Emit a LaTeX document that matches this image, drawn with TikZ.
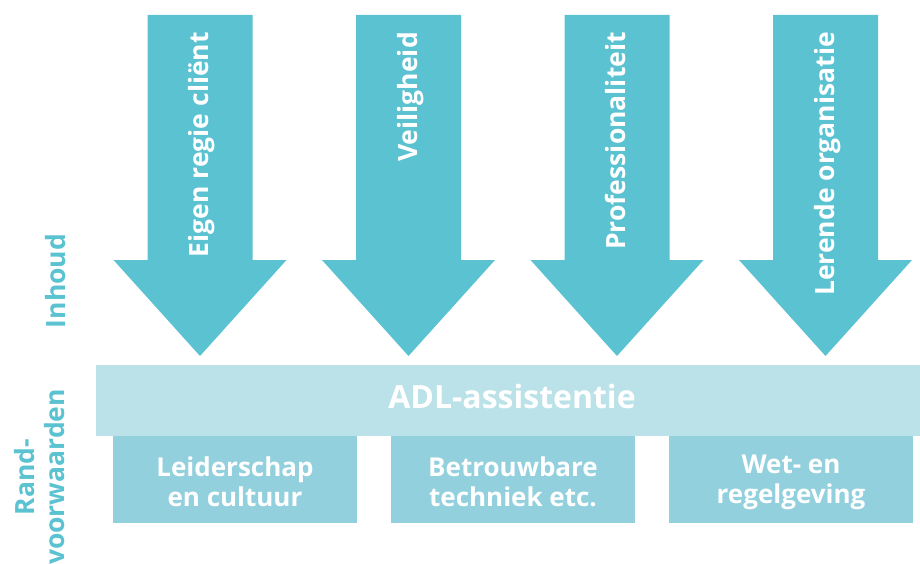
\documentclass[tikz,border=0pt]{standalone}
\usepackage{fontspec}
\setmainfont{Open Sans}
\definecolor{arrowc}{HTML}{5BC2D1}
\definecolor{bandc}{HTML}{BBE2E8}
\definecolor{boxc}{HTML}{92D0DE}
\tikzset{
  arrowtxt/.style={text=white,font=\bfseries\fontsize{26.5}{30}\selectfont,rotate=90,anchor=base east,inner sep=0pt},
  sidetxt/.style={text=arrowc,font=\bfseries\fontsize{26.5}{30}\selectfont,rotate=90,align=center,inner sep=0pt},
  boxnode/.style={fill=boxc,minimum width=244pt,minimum height=87pt,inner sep=0pt},
  boxtxt/.style={text=white,align=center,inner sep=0pt,font=\bfseries\fontsize{26}{30}\selectfont},
  bandnode/.style={fill=bandc,minimum width=824pt,minimum height=71pt,inner sep=0pt},
}
\begin{document}
\begin{tikzpicture}[x=1pt,y=-1pt]
\useasboundingbox (0,0) rectangle (920,564);
\foreach \cx/\nm/\txt in {200/a1/Eigen regie cliënt, 408.5/a2/Veiligheid, 617/a3/Professionaliteit, 825.5/a4/Lerende organisatie}{
  \fill[arrowc] (\cx-52.5,15) -- (\cx+52.5,15) -- (\cx+52.5,260) -- (\cx+86.5,260) -- (\cx,356) -- (\cx-86.5,260) -- (\cx-52.5,260) -- cycle;
  \node[arrowtxt] (\nm) at (\cx+8.5,32) {\txt};
}
\node[bandnode] (band) at (508,400.5) {};
\node[text=white,font=\bfseries\fontsize{32}{36}\selectfont,anchor=base] (adl) at (512,408) {ADL-assistentie};
\foreach \bx/\nm/\txt in {235/b1/{Leiderschap\\en cultuur}, 513/b2/{Betrouwbare\\techniek etc.}, 791/b3/{Wet- en\\regelgeving}}{
  \node[boxnode] (\nm) at (\bx,479.5) {};
  \node[boxtxt] (\nm t) at (\bx,482) {\txt};
}
\node[sidetxt,anchor=base] (inh) at (65,281) {Inhoud};
\node[sidetxt] (rv) at (40,477) {Rand-\\voorwaarden};
\end{tikzpicture}
\end{document}
